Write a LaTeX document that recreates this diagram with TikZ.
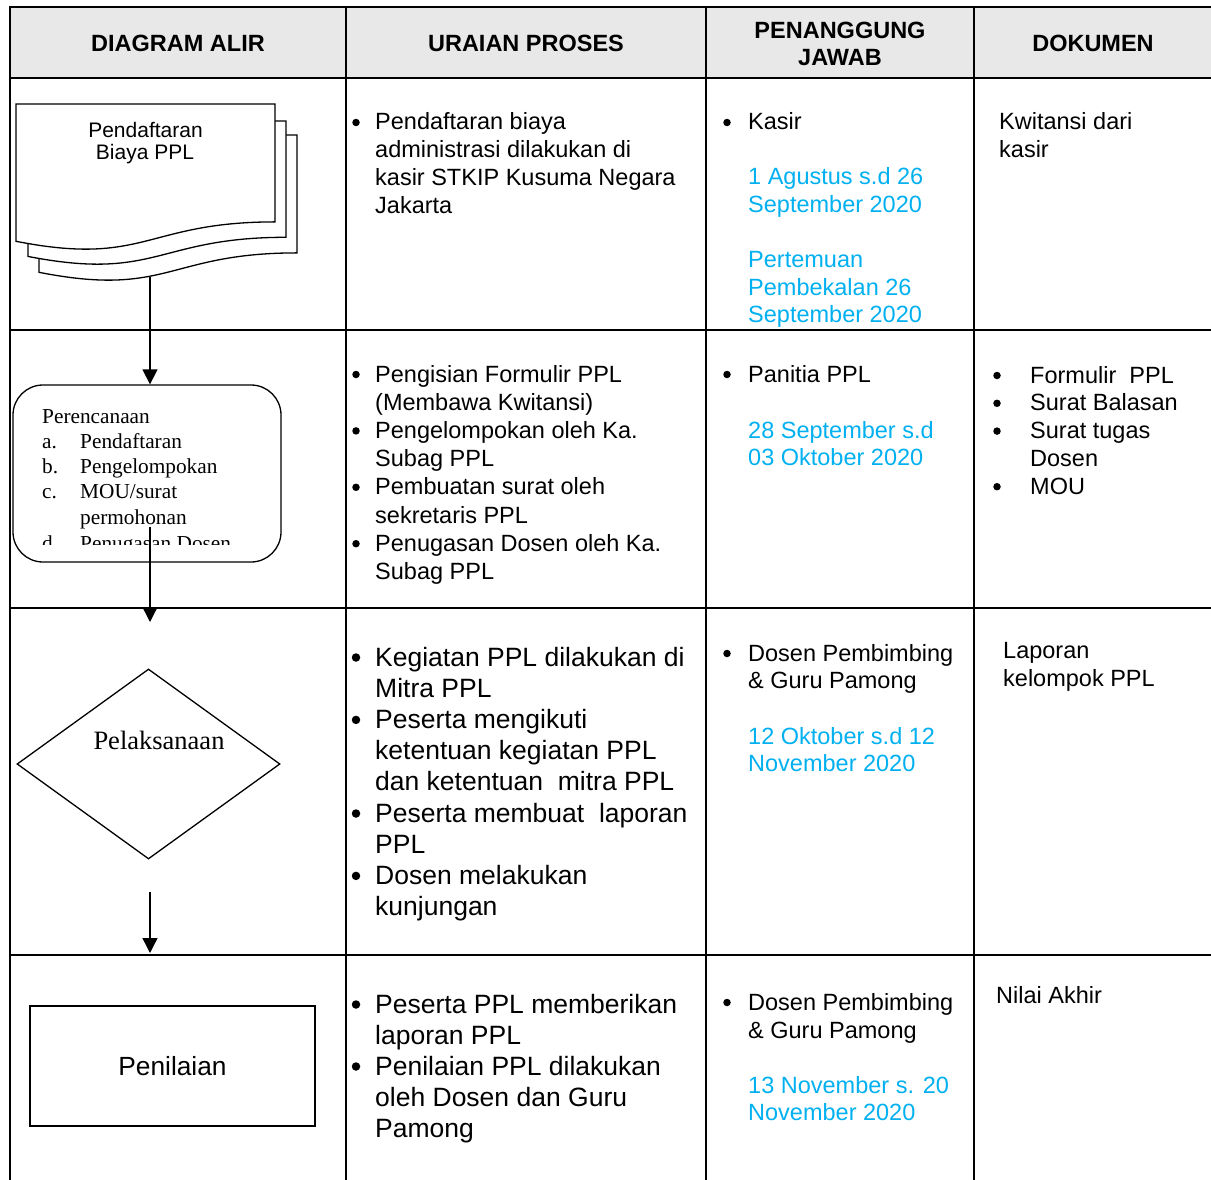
\documentclass[tikz,border=0pt]{standalone}
\usepackage{fontspec}
\setmainfont{Liberation Sans}
\newfontfamily\tnr{Liberation Serif}
\usetikzlibrary{arrows.meta,shapes.geometric}
\definecolor{hdr}{RGB}{232,232,232}
\definecolor{dateblue}{RGB}{0,176,240}
\newcommand{\tlines}[6][]{%
  \foreach \mytxt [count=\i from 0] in {#6} {%
    \node[txt,#1] (#2-\i) at (#3, {#4+\i*#5}) {\mytxt};}}
\newcommand{\docpage}[4]{%
  \draw[shapeline, fill=white] (#1,#2) -- ++(#3,0) -- ++(0,{0.802*#4})
    .. controls ({#1+0.5*#3},{#2+0.802*#4}) and ({#1+0.5*#3},{#2+1.1075*#4}) .. ({#1},{#2+0.934*#4}) -- cycle;}
\begin{document}
\begin{tikzpicture}[x=1pt,y=-1pt,
  txt/.style={anchor=base west, inner sep=0, font=\fontsize{23.5}{28}\selectfont},
  big/.style={font=\fontsize{26.5}{31}\selectfont},
  datec/.style={text=dateblue},
  bul/.style={circle, fill=black, inner sep=0, minimum size=7.5pt, yshift=7.5pt},
  bigbul/.style={circle, fill=black, inner sep=0, minimum size=8.5pt, yshift=8.5pt},
  hd/.style={anchor=base, inner sep=0, font=\bfseries\fontsize{23.5}{27}\selectfont},
  tt/.style={anchor=base west, inner sep=0, font=\tnr\fontsize{21.3}{25}\selectfont},
  docf/.style={anchor=base, inner sep=0, font=\fontsize{21}{24}\selectfont},
  shapeline/.style={line width=1.3pt},
  conn/.style={line width=1.4pt, -{Triangle[length=15pt,width=15pt]}},
  gridthick/.style={line width=2.4pt},
  gridthin/.style={line width=1.8pt}]
\useasboundingbox (0,0) rectangle (1211,1180);
% ---------- table ----------
\fill[hdr] (10,7) rectangle (1211,78);
\draw[gridthick] (1211,7) -- (10,7) -- (10,1180);
\draw[gridthick] (10,78) -- (1211,78);
\foreach \yy in {330,608,955} \draw[gridthin] (10,\yy) -- (1211,\yy);
\foreach \xx in {346,706,974} \draw[gridthin] (\xx,7) -- (\xx,1180);
% ---------- header ----------
\node[hd] (h1) at (178,52) {DIAGRAM ALIR};
\node[hd] (h2) at (526,52) {URAIAN PROSES};
\node[hd] (h3a) at (840,38.5) {PENANGGUNG};
\node[hd] (h3b) at (840,65.5) {JAWAB};
\node[hd] (h4) at (1093,52) {DOKUMEN};
% ---------- flow column ----------
\docpage{39}{135}{258}{147}
\docpage{28}{121}{258}{145}
\docpage{16}{104}{259}{147}
\node[docf] (d1) at (145.5,138) {Pendaftaran};
\node[docf] (d2) at (145,160) {Biaya PPL};
\coordinate (docbot) at (150,277);
\node[draw, shapeline, rounded corners=30pt, minimum width=268, minimum height=177, inner sep=0] (plan) at (147,473.5) {};
\begin{scope}
  \clip (13,385) rectangle (281,544);
  \node[tt] (pl0) at (42,423) {Perencanaan};
  \node[tt] (pla) at (42,448.3) {a.};
  \node[tt] (plat) at (80,448.3) {Pendaftaran};
  \node[tt] (plb) at (42,473.6) {b.};
  \node[tt] (plbt) at (80,473.6) {Pengelompokan};
  \node[tt] (plc) at (42,498.9) {c.};
  \node[tt] (plct) at (80,498.9) {MOU/surat};
  \node[tt] (plct2) at (80,524.2) {permohonan};
  \node[tt] (pld) at (42,550) {d.};
  \node[tt] (pldt) at (80,550) {Penugasan Dosen};
\end{scope}
\node[draw, diamond, shapeline, minimum width=263, minimum height=190, inner sep=0] (exec) at (148.5,764) {};
\node[anchor=base, inner sep=0, font=\tnr\fontsize{26.5}{30}\selectfont] (exect) at (159,749) {Pelaksanaan};
\node[draw, shapeline, minimum width=285, minimum height=120, inner sep=0, font=\fontsize{26.3}{30}\selectfont] (grade) at (172.5,1066) {Penilaian};
\coordinate (a2s) at (150,527);
\coordinate (a2e) at (150,622);
\coordinate (a3s) at (150,892);
\coordinate (a3e) at (150,953);
\draw[conn] (docbot) -- (docbot |- plan.north);
\draw[conn] (a2s) -- (a2e);
\draw[conn] (a3s) -- (a3e);
% ---------- uraian proses ----------
\node[bul] (ub1) at (356,130) {};
\tlines{u1}{375}{130}{27.7}{{Pendaftaran biaya},{administrasi dilakukan di},{kasir STKIP Kusuma Negara},{Jakarta}}
\foreach \yy [count=\k] in {382,438.4,494.8,551.2} \node[bul] (ub2-\k) at (356,\yy) {};
\tlines{u2}{375}{382}{28.2}{{Pengisian Formulir PPL},{(Membawa Kwitansi)},{Pengelompokan oleh Ka.},{Subag PPL},{Pembuatan surat oleh},{sekretaris PPL},{Penugasan Dosen oleh Ka.},{Subag PPL}}
\foreach \yy [count=\k] in {666,728.4,822,884.4} \node[bigbul] (ub3-\k) at (356,\yy) {};
\tlines[big]{u3}{375}{666}{31.2}{{Kegiatan PPL dilakukan di},{Mitra PPL},{Peserta mengikuti},{ketentuan kegiatan PPL},{dan ketentuan~ mitra PPL},{Peserta membuat~ laporan},{PPL},{Dosen melakukan},{kunjungan}}
\foreach \yy [count=\k] in {1013,1075} \node[bigbul] (ub4-\k) at (356,\yy) {};
\tlines[big]{u4}{375}{1013}{31}{{Peserta PPL memberikan},{laporan PPL},{Penilaian PPL dilakukan},{oleh Dosen dan Guru},{Pamong}}
% ---------- penanggung jawab ----------
\node[bul] (pb1) at (727,130) {};
\node[txt] (p1) at (748,130) {Kasir};
\tlines[datec]{p1d}{748}{185}{27.5}{{1 Agustus s.d 26},{September 2020}}
\tlines[datec]{p1e}{748}{267.5}{27.5}{{Pertemuan},{Pembekalan 26},{September 2020}}
\node[bul] (pb2) at (727,382) {};
\node[txt] (p2) at (748,382) {Panitia PPL};
\tlines[datec]{p2d}{748}{438}{27.7}{{28 September s.d},{03 Oktober 2020}}
\node[bul] (pb3) at (727,661) {};
\tlines{p3}{748}{661}{27.3}{{Dosen Pembimbing},{\& Guru Pamong}}
\tlines[datec]{p3d}{748}{744}{27}{{12 Oktober s.d 12},{November 2020}}
\node[bul] (pb4) at (727,1010) {};
\tlines{p4}{748}{1010}{28}{{Dosen Pembimbing},{\& Guru Pamong}}
\tlines[datec]{p4d}{748}{1093}{27.5}{{13 November s. 20},{November 2020}}
% ---------- dokumen ----------
\tlines{k1}{999}{130}{27.5}{{Kwitansi dari},{kasir}}
\foreach \yy [count=\k] in {383,410.8,438.6,494.2} \node[bul] (kb2-\k) at (997,\yy) {};
\tlines{k2}{1030}{383}{27.8}{{Formulir~ PPL},{Surat Balasan},{Surat tugas},{Dosen},{MOU}}
\tlines{k3}{1003}{658}{28}{{Laporan},{kelompok PPL}}
\node[txt] (k4) at (996,1003) {Nilai Akhir};
\end{tikzpicture}
\end{document}
